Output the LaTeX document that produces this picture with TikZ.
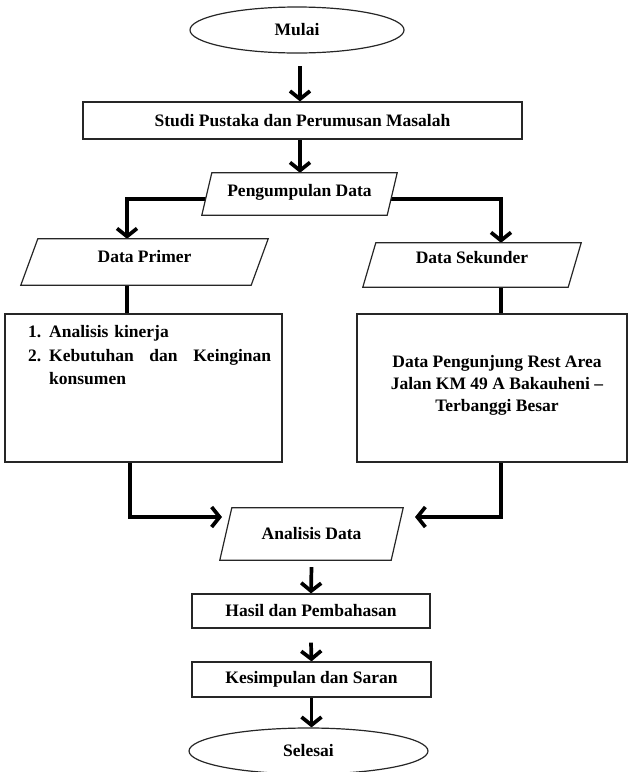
\documentclass[tikz,border=0pt]{standalone}
\usepackage{fontspec}
\setmainfont{Liberation Serif}
\usetikzlibrary{arrows.meta,shapes.geometric}
\pgfdeclarelayer{connlayer}
\pgfdeclarelayer{shapelayer}
\pgfsetlayers{connlayer,shapelayer,main}
\begin{document}
\begin{tikzpicture}[x=1pt,y=-1pt,
  every node/.style={font=\bfseries\fontsize{17.5}{22}\selectfont, inner sep=0pt},
  procbox/.style={draw=black!85, line width=1.2pt, fill=white, rectangle},
  term/.style={draw=black!85, line width=1.2pt, fill=white, ellipse},
  iobox/.style={rectangle},
  conn/.style={line width=3.7pt, black},
  arr/.style={conn, -{Straight Barb[length=8pt,width=20pt]}},
  paraline/.style={draw=black!85, line width=1.2pt, fill=white, line join=miter}]

\useasboundingbox (0,0) rectangle (630,772);

% nodes
\node[term, minimum width=214pt, minimum height=46pt] (start) at (297,30) {Mulai};
\node[procbox, minimum width=439pt, minimum height=37pt] (studi) at (302.5,120.5) {Studi Pustaka dan Perumusan Masalah};
\node[iobox, minimum width=195pt, minimum height=42pt, text height=11.5pt, text depth=7pt] (pc) at (299.5,194) {Pengumpulan Data};
\node[iobox, minimum width=247pt, minimum height=46pt, text height=11.5pt, text depth=10pt] (dp) at (144.5,262) {Data Primer};
\node[iobox, minimum width=218pt, minimum height=44pt, text height=11.5pt, text depth=14pt] (ds) at (472,265) {Data Sekunder};
\node[procbox, minimum width=277pt, minimum height=148pt] (lb) at (143.5,388) {};
\node[procbox, minimum width=270pt, minimum height=148pt] (rb) at (492,388) {};
\node[anchor=north west, text width=243pt, align=left, font=\bfseries\fontsize{17.5}{23.5}\selectfont] (lbtext) at (28,325.5)
  {\makebox[21pt][l]{1.}Analisis kinerja\\
   \makebox[21pt][l]{2.}\makebox[222pt][l]{Kebutuhan\hfill dan\hfill Keinginan}\\
   \hspace*{21pt}konsumen};
\node[align=center] (rbtext) at (497,385)
  {Data Pengunjung Rest Area\\ Jalan KM 49 A Bakauheni --\\ Terbanggi Besar};
\node[iobox, minimum width=183pt, minimum height=52pt] (ad) at (311.5,534) {Analisis Data};
\node[procbox, minimum width=238pt, minimum height=34pt] (hs) at (311,611) {Hasil dan Pembahasan};
\node[procbox, minimum width=239pt, minimum height=35pt] (ks) at (311.5,679.5) {Kesimpulan dan Saran};
\node[term, minimum width=239pt, minimum height=46pt] (end) at (308.5,751) {Selesai};

% parallelogram outlines
\begin{pgfonlayer}{shapelayer}
\draw[paraline] ([xshift=10pt]pc.north west) -- (pc.north east) -- ([xshift=-10pt]pc.south east) -- (pc.south west) -- cycle;
\draw[paraline] ([xshift=17pt]dp.north west) -- (dp.north east) -- ([xshift=-17pt]dp.south east) -- (dp.south west) -- cycle;
\draw[paraline] ([xshift=13pt]ds.north west) -- (ds.north east) -- ([xshift=-13pt]ds.south east) -- (ds.south west) -- cycle;
\draw[paraline] ([xshift=12pt]ad.north west) -- (ad.north east) -- ([xshift=-12pt]ad.south east) -- (ad.south west) -- cycle;
\end{pgfonlayer}

% connectors
\coordinate (bl) at (127,199);
\coordinate (br) at (501,199);
\coordinate (ml) at (130,517);
\coordinate (mr) at (501,517);
\coordinate (tl) at (222,517);
\coordinate (tr) at (415,517);
\begin{pgfonlayer}{connlayer}
\draw[arr] ([xshift=-2.5pt,yshift=35pt]studi.north) -- ([xshift=-2.5pt]studi.north);
\draw[arr] ([xshift=-2.5pt]studi.south) -- ([xshift=-2.5pt]studi.south |- pc.north);
\draw[arr] (pc.center |- bl) -- (bl) -- (bl |- dp.north);
\draw[arr] (pc.center |- br) -- (br) -- (br |- ds.north);
\draw[conn] (bl |- dp.south) -- (bl |- lb.north);
\draw[conn] (br |- ds.south) -- (br |- rb.north);
\draw[arr] (ml |- lb.south) -- (ml) -- (tl);
\draw[arr] (mr |- rb.south) -- (mr) -- (tr);
\draw[arr] ([yshift=-7pt]ad.south) -- (hs.north);
\draw[arr] ([yshift=-14pt]hs.south) -- (ks.north);
\draw[arr] (ks.south) -- (ks.south |- end.north);
\end{pgfonlayer}
\end{tikzpicture}
\end{document}
